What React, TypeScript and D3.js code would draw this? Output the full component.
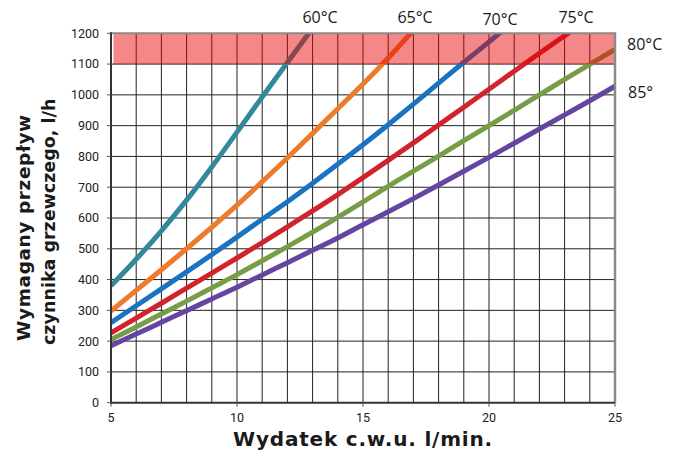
import React from "react";
import * as d3 from "d3";

const xValues = [5, 6, 7, 8, 9, 10, 11, 12, 13, 14, 15, 16, 17, 18, 19, 20, 21, 22, 23, 24, 25];
const s60 = [380, 466, 558, 658, 766, 879, 993, 1105, 1217];
const s65 = [298, 365, 432, 500, 570, 642, 718, 795, 875, 955, 1035, 1120, 1210];
const s70 = [260, 315, 370, 425, 481, 538, 596, 653, 713, 775, 838, 903, 970, 1038, 1106, 1172, 1240];
const s75 = [227, 275, 323, 372, 421, 470, 520, 571, 623, 676, 731, 787, 844, 902, 960, 1018, 1077, 1135, 1192, 1250];
const s80 = [205, 246, 288, 330, 373, 416, 461, 507, 554, 602, 652, 703, 752, 801, 851, 900, 950, 1000, 1050, 1099, 1148];
const s85 = [185, 223, 261, 299, 337, 375, 415, 455, 495, 535, 578, 620, 663, 707, 752, 797, 843, 889, 935, 981, 1028];

const seriesNames = ["60°C", "65°C", "70°C", "75°C", "80°C", "85°"];
const seriesValues = [s60, s65, s70, s75, s80, s85];
const seriesColors = ["#34889b", "#ee7a2c", "#1a73c1", "#d0232b", "#799d46", "#6446a0"];

const xTicks = [5, 10, 15, 20, 25];
const yTicks = [0, 100, 200, 300, 400, 500, 600, 700, 800, 900, 1000, 1100, 1200];
const bandRange = [1100, 1200];

const labelPos = [
  { x: 320, y: 23, anchor: "middle" },
  { x: 415, y: 23, anchor: "middle" },
  { x: 500, y: 25, anchor: "middle" },
  { x: 576, y: 23, anchor: "middle" },
  { x: 627, y: 50, anchor: "start" },
  { x: 628, y: 98, anchor: "start" },
];

export default function App() {
  const W = 676;
  const H = 452;
  const x = d3.scaleLinear().domain([5, 25]).range([111, 615]);
  const y = d3.scaleLinear().domain([0, 1200]).range([402.7, 33.3]);
  const line = d3
    .line<[number, number]>()
    .x((d) => x(d[0]))
    .y((d) => y(d[1]))
    .curve(d3.curveMonotoneX);

  const gridX = d3.range(6, 25, 1);
  const gridY = d3.range(100, 1200, 100);

  return (
    <svg
      width={W}
      height={H}
      style={{ position: "absolute", left: 0, top: 0, background: "#fff" }}
    >
      <defs>
        <clipPath id="plot">
          <rect x={x(5)} y={y(1200)} width={x(25) - x(5)} height={y(0) - y(1200)} />
        </clipPath>
      </defs>
      <rect x={0} y={0} width={W} height={H} fill="#fff" />
      {gridX.map((v) => (
        <line key={"gx" + v} x1={x(v)} x2={x(v)} y1={y(0)} y2={y(1200)} stroke="#222" strokeWidth={1} />
      ))}
      {gridY.map((v) => (
        <line key={"gy" + v} x1={x(5)} x2={x(25)} y1={y(v)} y2={y(v)} stroke="#222" strokeWidth={1} />
      ))}
      <g clipPath="url(#plot)">
        {seriesValues.map((vals, i) => (
          <path
            key={"s" + i}
            d={line(vals.map((v, j) => [xValues[j], v] as [number, number])) || ""}
            fill="none"
            stroke={seriesColors[i]}
            strokeWidth={5}
          />
        ))}
      </g>
      <rect
        x={x(5) + 2.5}
        y={y(bandRange[1])}
        width={x(25) - x(5) - 2.5}
        height={y(bandRange[0]) - y(bandRange[1])}
        fill="rgb(232,0,0)"
        fillOpacity={0.47}
      />
      <line x1={x(5)} x2={x(25)} y1={y(1200)} y2={y(1200)} stroke="#8a8a8a" strokeWidth={2} />
      <line x1={x(25)} x2={x(25)} y1={y(1200) - 1} y2={y(0)} stroke="#8a8a8a" strokeWidth={2.5} />
      <line x1={x(5)} x2={x(5)} y1={y(1200) - 1} y2={y(0) + 1} stroke="#333" strokeWidth={2} />
      <line x1={x(5) - 1} x2={x(25)} y1={y(0)} y2={y(0)} stroke="#333" strokeWidth={2} />
      {yTicks.map((v) => (
        <g key={"yt" + v}>
          <line x1={x(5) - 4} x2={x(5)} y1={y(v)} y2={y(v)} stroke="#555" strokeWidth={1} />
          <text
            x={x(5) - 12}
            y={y(v)}
            dy="0.35em"
            textAnchor="end"
            fontFamily="Roboto, sans-serif"
            fontSize={12.5}
            fill="#222"
          >
            {v}
          </text>
        </g>
      ))}
      {xTicks.map((v) => (
        <g key={"xt" + v}>
          <line x1={x(v)} x2={x(v)} y1={y(0)} y2={y(0) + 4} stroke="#555" strokeWidth={1} />
          <text
            x={x(v)}
            y={422}
            textAnchor="middle"
            fontFamily="Roboto, sans-serif"
            fontSize={12.5}
            fill="#222"
          >
            {v}
          </text>
        </g>
      ))}
      {seriesNames.map((n, i) => (
        <text
          key={"l" + i}
          x={labelPos[i].x}
          y={labelPos[i].y}
          textAnchor={labelPos[i].anchor}
          fontFamily="'Open Sans', sans-serif"
          fontSize={16}
          fill="#1a1a1a"
        >
          {n}
        </text>
      ))}
      <text
        x={363}
        y={446}
        textAnchor="middle"
        fontFamily="'DejaVu Sans', sans-serif"
        fontWeight="bold"
        fontSize={20}
        letterSpacing={0.8}
        fill="#1a1a1a"
      >
        Wydatek c.w.u. l/min.
      </text>
      <g transform="translate(30,341) rotate(-90)">
        <text
          x={0}
          y={0}
          fontFamily="'DejaVu Sans', sans-serif"
          fontWeight="bold"
          fontSize={18.5}
          letterSpacing={0.6}
          fill="#1a1a1a"
        >
          Wymagany przepływ
        </text>
      </g>
      <g transform="translate(55,345) rotate(-90)">
        <text x={0} y={0} fontFamily="'DejaVu Sans', sans-serif" fontWeight="bold" fontSize={17.5} fill="#1a1a1a">
          czynnika grzewczego, l/h
        </text>
      </g>
    </svg>
  );
}
